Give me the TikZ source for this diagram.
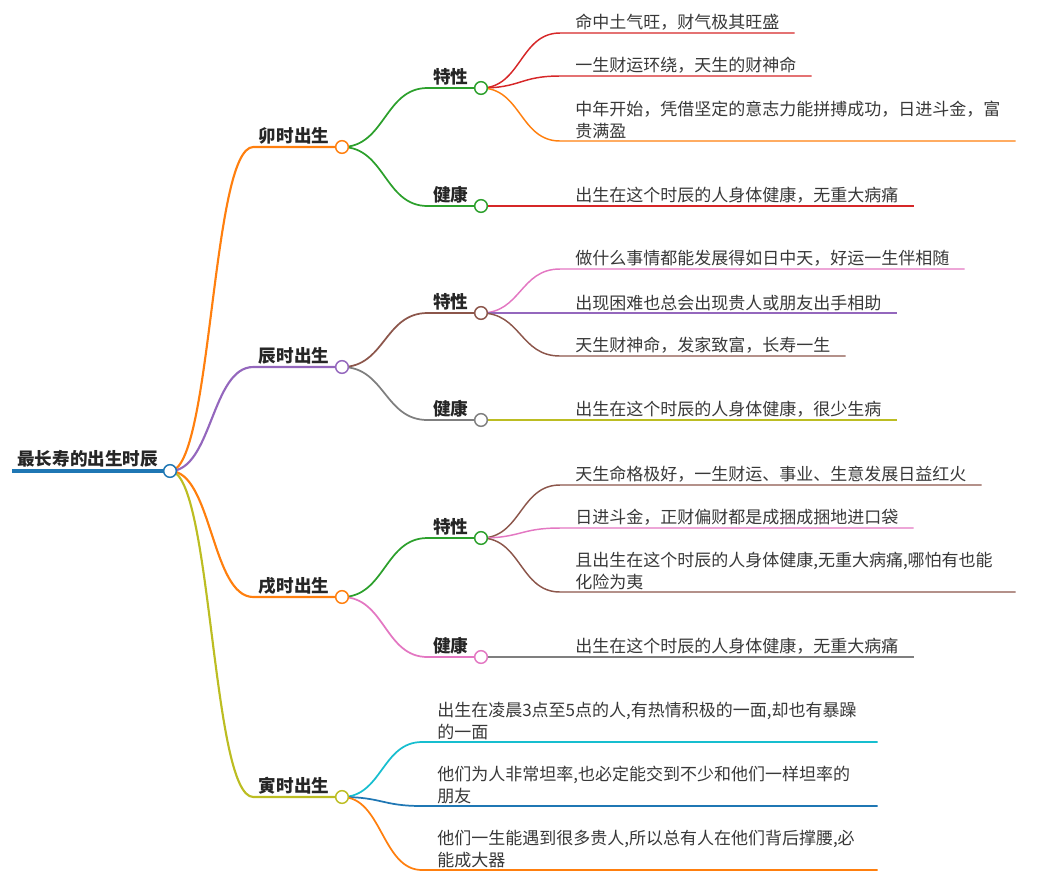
\documentclass[tikz,border=0pt]{standalone}
\usepackage{fontspec}
\setmainfont{Noto Sans CJK SC}
\usepackage{xcolor}
\usetikzlibrary{
  backgrounds
}
\definecolor{tBlue}{HTML}{1F77B4}
\definecolor{tOrange}{HTML}{FF7F0E}
\definecolor{tGreen}{HTML}{2CA02C}
\definecolor{tRed}{HTML}{D62728}
\definecolor{tPurple}{HTML}{9467BD}
\definecolor{tBrown}{HTML}{8C564B}
\definecolor{tPink}{HTML}{E377C2}
\definecolor{tGray}{HTML}{7F7F7F}
\definecolor{tOlive}{HTML}{BCBD22}
\definecolor{tCyan}{HTML}{17BECF}
\tikzset{
  knob/.style={
    circle,
    fill=white,
    line width=1.1pt,
    minimum size=9.5pt,
    inner sep=0pt,
  },
  rootlbl/.style={
    anchor=south east,
    font=\bfseries\fontsize{13.2}{15}\selectfont,
    text=black!85,
    inner xsep=3.5pt,
    inner ysep=2.2pt,
  },
  toplbl/.style={
    anchor=south east,
    font=\bfseries\fontsize{13.2}{15}\selectfont,
    text=black!85,
    inner xsep=4pt,
    inner ysep=1.8pt,
  },
  leaf/.style={
    anchor=south west,
    font=\fontsize{12.75}{16.5}\selectfont,
    text=black!78,
    inner xsep=11.25pt,
    inner ysep=1.6pt,
  },
  leafwide/.style={
    leaf,
    text width=318.75pt,
    align=left,
  },
  rootline/.style={line width=3pt, tBlue},
  link1/.style={line width=1.6pt},
  link2/.style={line width=1.3pt},
  link3/.style={line width=1.1pt},
}

\begin{document}
\begin{tikzpicture}[x=0.75pt, y=-0.75pt]
  \useasboundingbox (0,0) rectangle (1041,883);

  % Root
  \node[knob, draw=tBlue] (root) at (170,471) {};
  \node[rootlbl] (rootlbl) at (root.west) {最长寿的出生时辰};

  % Level 1 — four hours
  \node[knob, draw=tOrange] (mao) at (342,147) {};
  \node[toplbl] (maolbl) at (mao.west) {卯时出生};
  \node[knob, draw=tPurple] (chen) at (342,367) {};
  \node[toplbl] (chenlbl) at (chen.west) {辰时出生};
  \node[knob, draw=tOrange] (xu) at (342,597) {};
  \node[toplbl] (xulbl) at (xu.west) {戌时出生};
  \node[knob, draw=tOlive] (yin) at (342,797) {};
  \node[toplbl] (yinlbl) at (yin.west) {寅时出生};

  % Level 2 — traits and health
  \node[knob, draw=tGreen] (maotr) at (481,88) {};
  \node[toplbl] (maotrlbl) at (maotr.west) {特性};
  \node[knob, draw=tGreen] (maohe) at (481,206) {};
  \node[toplbl] (maohelbl) at (maohe.west) {健康};
  \node[knob, draw=tBrown] (chentr) at (481,313) {};
  \node[toplbl] (chentrlbl) at (chentr.west) {特性};
  \node[knob, draw=tGray] (chenhe) at (481,420) {};
  \node[toplbl] (chenhelbl) at (chenhe.west) {健康};
  \node[knob, draw=tGreen] (xutr) at (481,538) {};
  \node[toplbl] (xutrlbl) at (xutr.west) {特性};
  \node[knob, draw=tPink] (xuhe) at (481,657) {};
  \node[toplbl] (xuhelbl) at (xuhe.west) {健康};

  % Leaves — 卯
  \node[leaf] (maoa) at (560,33) {命中土气旺，财气极其旺盛};
  \node[leaf] (maob) at (560,76) {一生财运环绕，天生的财神命};
  \node[leafwide] (maoc) at (560,141) {中年开始，凭借坚定的意志力能拼搏成功，日进斗金，富\\贵满盈};
  \node[leaf] (maod) at (560,206) {出生在这个时辰的人身体健康，无重大病痛};

  % Leaves — 辰
  \node[leaf] (chena) at (560,269) {做什么事情都能发展得如日中天，好运一生伴相随};
  \node[leaf] (chenb) at (560,313) {出现困难也总会出现贵人或朋友出手相助};
  \node[leaf] (chenc) at (560,356) {天生财神命，发家致富，长寿一生};
  \node[leaf] (chend) at (560,420) {出生在这个时辰的人身体健康，很少生病};

  % Leaves — 戌
  \node[leaf] (xua) at (560,485) {天生命格极好，一生财运、事业、生意发展日益红火};
  \node[leaf] (xub) at (560,528) {日进斗金，正财偏财都是成捆成捆地进口袋};
  \node[leafwide] (xuc) at (560,592) {且出生在这个时辰的人身体健康,无重大病痛,哪怕有也能\\化险为夷};
  \node[leaf] (xud) at (560,657) {出生在这个时辰的人身体健康，无重大病痛};

  % Leaves — 寅
  \node[leafwide] (yina) at (422,742) {出生在凌晨3点至5点的人,有热情积极的一面,却也有暴躁\\的一面};
  \node[leafwide] (yinb) at (422,806) {他们为人非常坦率,也必定能交到不少和他们一样坦率的\\朋友};
  \node[leafwide] (yinc) at (422,870) {他们一生能遇到很多贵人,所以总有人在他们背后撑腰,必\\能成大器};

  \begin{pgfonlayer}{background}
    \draw[rootline] (rootlbl.south west) -- (root.center);

    \draw[link1, tOrange] (root.center) .. controls +(42,0) and +(-42,0) .. (maolbl.south west) -- (mao.center);
    \draw[link1, tPurple] (root.center) .. controls +(42,0) and +(-42,0) .. (chenlbl.south west) -- (chen.center);
    \draw[link1, tOrange] (root.center) .. controls +(42,0) and +(-42,0) .. (xulbl.south west) -- (xu.center);
    \draw[link1, tOlive] (root.center) .. controls +(42,0) and +(-42,0) .. (yinlbl.south west) -- (yin.center);

    \draw[link2, tGreen] (mao.center) .. controls +(43,0) and +(-43,0) .. (maotrlbl.south west) -- (maotr.center);
    \draw[link2, tGreen] (mao.center) .. controls +(43,0) and +(-43,0) .. (maohelbl.south west) -- (maohe.center);
    \draw[link2, tBrown] (chen.center) .. controls +(43,0) and +(-43,0) .. (chentrlbl.south west) -- (chentr.center);
    \draw[link2, tGray] (chen.center) .. controls +(43,0) and +(-43,0) .. (chenhelbl.south west) -- (chenhe.center);
    \draw[link2, tGreen] (xu.center) .. controls +(43,0) and +(-43,0) .. (xutrlbl.south west) -- (xutr.center);
    \draw[link2, tPink] (xu.center) .. controls +(43,0) and +(-43,0) .. (xuhelbl.south west) -- (xuhe.center);

    \draw[link3, tRed] (maotr.center) .. controls +(40,0) and +(-40,0) .. (maoa.south west) -- (maoa.south east);
    \draw[link3, tRed] (maotr.center) .. controls +(40,0) and +(-40,0) .. (maob.south west) -- (maob.south east);
    \draw[link3, tOrange] (maotr.center) .. controls +(40,0) and +(-40,0) .. (maoc.south west) -- (maoc.south east);
    \draw[link3, tRed] (maohe.center) -- (maod.south west) -- (maod.south east);

    \draw[link3, tPink] (chentr.center) .. controls +(40,0) and +(-40,0) .. (chena.south west) -- (chena.south east);
    \draw[link3, tPurple] (chentr.center) -- (chenb.south west) -- (chenb.south east);
    \draw[link3, tBrown] (chentr.center) .. controls +(40,0) and +(-40,0) .. (chenc.south west) -- (chenc.south east);
    \draw[link3, tOlive] (chenhe.center) -- (chend.south west) -- (chend.south east);

    \draw[link3, tBrown] (xutr.center) .. controls +(40,0) and +(-40,0) .. (xua.south west) -- (xua.south east);
    \draw[link3, tPink] (xutr.center) .. controls +(40,0) and +(-40,0) .. (xub.south west) -- (xub.south east);
    \draw[link3, tBrown] (xutr.center) .. controls +(40,0) and +(-40,0) .. (xuc.south west) -- (xuc.south east);
    \draw[link3, tGray] (xuhe.center) -- (xud.south west) -- (xud.south east);

    \draw[link2, tCyan] (yin.center) .. controls +(40,0) and +(-40,0) .. (yina.south west) -- (yina.south east);
    \draw[link2, tBlue] (yin.center) .. controls +(40,0) and +(-40,0) .. (yinb.south west) -- (yinb.south east);
    \draw[link2, tOrange] (yin.center) .. controls +(40,0) and +(-40,0) .. (yinc.south west) -- (yinc.south east);
  \end{pgfonlayer}
\end{tikzpicture}
\end{document}
